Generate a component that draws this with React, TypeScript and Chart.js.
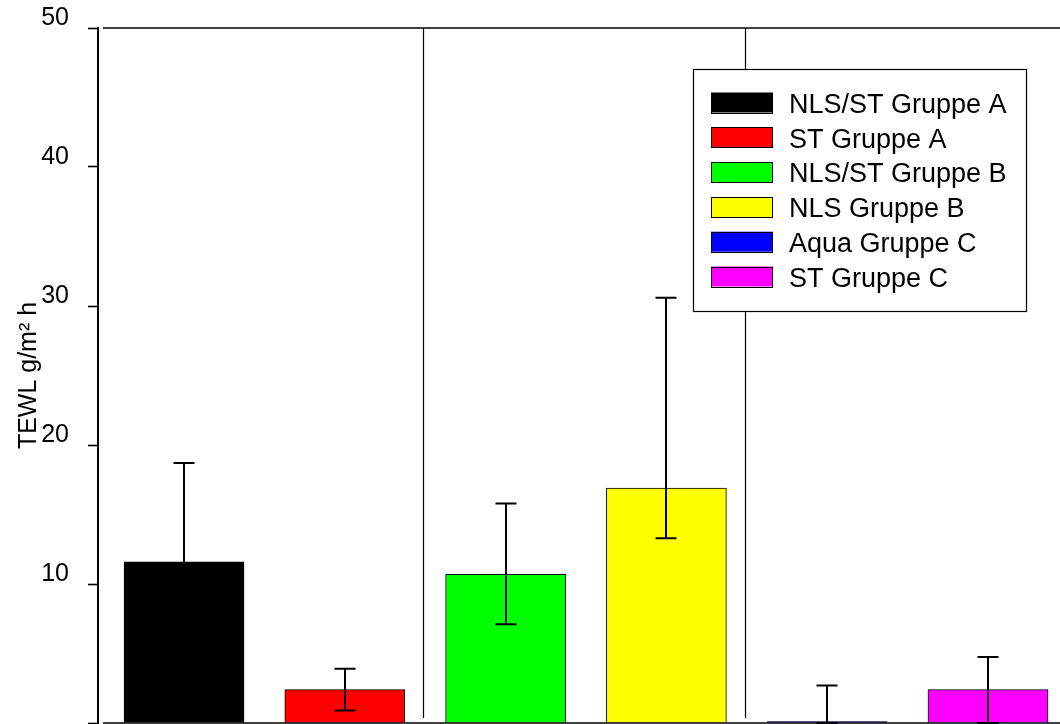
import React, { useEffect, useRef } from "react";
import { Chart, registerables } from "chart.js";

Chart.register(...registerables);

// ---- data ----
const seriesLabels = [
  "NLS/ST Gruppe A",
  "ST Gruppe A",
  "NLS/ST Gruppe B",
  "NLS Gruppe B",
  "Aqua Gruppe C",
  "ST Gruppe C",
];
const barPositions = [1, 2, 3, 4, 5, 6];
const barValues = [11.6, 2.4, 10.7, 16.9, 0.1, 2.4];
const errorUpper = [18.7, 3.9, 15.8, 30.6, 2.7, 4.75];
const errorLower = [8.0, 0.9, 7.1, 13.3, 0, 0];
const barColors = ["#000000", "#ff0000", "#00ff00", "#ffff00", "#0000ff", "#ff00ff"];
const groupDividers = [2.5, 4.5];
const yTickValues = [0, 10, 20, 30, 40, 50];
const yTitle = "TEWL g/m\u00B2 h";

const FONT_FAMILY = '"Liberation Sans", Arial, Helvetica, sans-serif';

const framePlugin = {
  id: "frame",
  beforeDatasetsDraw(chart: any) {
    const { ctx, chartArea } = chart;
    const xs = chart.scales.x;
    ctx.save();
    ctx.strokeStyle = "#000";
    ctx.lineWidth = 1.2;
    groupDividers.forEach((v) => {
      const px = Math.round(xs.getPixelForValue(v)) - 1.5;
      ctx.beginPath();
      ctx.moveTo(px, chartArea.top);
      ctx.lineTo(px, chartArea.bottom - 5);
      ctx.stroke();
    });
    ctx.restore();
  },
  afterDatasetsDraw(chart: any) {
    const { ctx, chartArea } = chart;
    const ys = chart.scales.y;
    ctx.save();
    // top and bottom frame lines
    ctx.strokeStyle = "#000";
    ctx.lineWidth = 1.6;
    ctx.beginPath();
    ctx.moveTo(chartArea.left + 5, chartArea.top);
    ctx.lineTo(chart.width, chartArea.top);
    ctx.moveTo(chartArea.left + 5, chartArea.bottom);
    ctx.lineTo(chart.width, chartArea.bottom);
    ctx.stroke();

    // error bars
    ctx.lineWidth = 2;
    const capHalf = 10.5;
    chart.data.datasets.forEach((_: any, i: number) => {
      const meta = chart.getDatasetMeta(i);
      const el = meta.data[0];
      if (!el) return;
      const x = Math.round(el.x);
      const yU = ys.getPixelForValue(errorUpper[i]);
      const yL = ys.getPixelForValue(errorLower[i]);
      ctx.beginPath();
      ctx.moveTo(x, yL);
      ctx.lineTo(x, yU);
      ctx.moveTo(x - capHalf, yU);
      ctx.lineTo(x + capHalf, yU);
      ctx.moveTo(x - capHalf, yL);
      ctx.lineTo(x + capHalf, yL);
      ctx.stroke();
    });
    ctx.restore();
  },
  afterDraw(chart: any) {
    const { ctx } = chart;
    ctx.save();
    // legend box
    const bx = 693.5, by = 69.5, bw = 333, bh = 242;
    ctx.fillStyle = "#fff";
    ctx.fillRect(bx, by, bw, bh);
    ctx.strokeStyle = "#000";
    ctx.lineWidth = 1.2;
    ctx.strokeRect(bx, by, bw, bh);
    ctx.font = `27px ${FONT_FAMILY}`;
    ctx.textAlign = "left";
    ctx.textBaseline = "alphabetic";
    chart.data.datasets.forEach((ds: any, i: number) => {
      const top = 92.5 + 34.8 * i;
      ctx.fillStyle = ds.backgroundColor;
      ctx.fillRect(711, top, 62, 20);
      ctx.strokeStyle = "#000";
      ctx.lineWidth = 1;
      ctx.strokeRect(711.5, Math.round(top) + 0.5, 61, 20);
      ctx.fillStyle = "#000";
      ctx.fillText(ds.label, 789, top + 20.3);
    });
    ctx.restore();
  },
};

export default function App() {
  const canvasRef = useRef<HTMLCanvasElement | null>(null);

  useEffect(() => {
    if (!canvasRef.current) return;
    const datasets = seriesLabels.map((label, i) => ({
      label,
      data: [{ x: barPositions[i], y: barValues[i] }],
      backgroundColor: barColors[i],
      borderColor: "#000",
      borderWidth: 1,
      barThickness: 120,
      grouped: false,
    }));

    const chart = new Chart(canvasRef.current, {
      type: "bar",
      data: { datasets },
      options: {
        animation: false,
        responsive: false,
        devicePixelRatio: 1,
        layout: { padding: { top: 28, bottom: 1, left: 0, right: 0 } },
        plugins: {
          legend: { display: false },
          tooltip: { enabled: false },
        },
        scales: {
          x: {
            type: "linear",
            min: 0.465,
            max: 6.448,
            offset: false,
            display: false,
          },
          y: {
            type: "linear",
            min: 0,
            max: 50,
            afterBuildTicks: (scale: any) => {
              scale.ticks = yTickValues.map((v) => ({ value: v }));
            },
            ticks: {
              callback: (v: any) => (Number(v) === 0 ? "" : String(v)),
              color: "#000",
              font: { family: FONT_FAMILY, size: 25 },
              padding: 19,
              labelOffset: -10,
            },
            grid: {
              drawOnChartArea: false,
              drawTicks: true,
              tickLength: 10,
              tickColor: "#000",
              tickWidth: 1.6,
            },
            border: { display: true, color: "#000", width: 2 },
            title: {
              display: true,
              text: yTitle,
              color: "#000",
              font: { family: FONT_FAMILY, size: 25 },
              padding: { top: 14, bottom: 0 },
            },
            afterFit: (scale: any) => {
              scale.width = 98;
              scale.paddingTop = 0;
              scale.paddingBottom = 0;
            },
          },
        },
      },
      plugins: [framePlugin],
    } as any);

    return () => chart.destroy();
  }, []);

  return (
    <div style={{ position: "absolute", left: 0, top: 0, width: 1060, height: 724, background: "#fff" }}>
      <canvas ref={canvasRef} width={1060} height={724} style={{ display: "block" }} />
    </div>
  );
}
